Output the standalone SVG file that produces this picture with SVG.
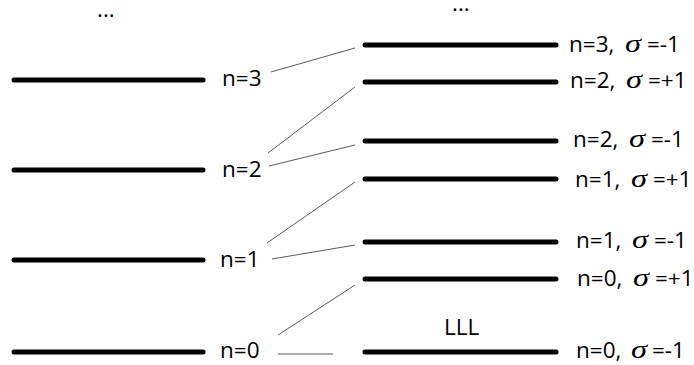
<svg xmlns="http://www.w3.org/2000/svg" width="694" height="365" viewBox="0 0 694 365">
  <style>
    .lvl { stroke: #000; stroke-width: 5; stroke-linecap: round; fill: none; }
    .link { stroke: #5a5a5a; stroke-width: 1; fill: none; }
    .lbl { font-family: "Open Sans", "Liberation Sans", sans-serif; font-size: 22.5px; fill: #000; }
    .sig { font-family: "Liberation Serif", "DejaVu Serif", serif; font-style: italic; font-size: 26px; fill: #000; }
  </style>
  <rect width="694" height="365" fill="#fff"/>

  <!-- continuation marks -->
  <text class="lbl" x="97" y="17">...</text>
  <text class="lbl" x="452" y="11">...</text>

  <!-- Landau levels without spin splitting -->
  <g id="n3"><line class="lvl" x1="14" y1="80" x2="203" y2="80"/><text class="lbl" x="222" y="86">n=3</text></g>
  <g id="n2"><line class="lvl" x1="14" y1="170" x2="203" y2="170"/><text class="lbl" x="222" y="177">n=2</text></g>
  <g id="n1"><line class="lvl" x1="14" y1="260" x2="203" y2="260"/><text class="lbl" x="220" y="267">n=1</text></g>
  <g id="n0"><line class="lvl" x1="14" y1="352" x2="203" y2="352"/><text class="lbl" x="220" y="358">n=0</text></g>

  <!-- spin-split levels: "n=k," then a slightly widened italic sigma, then the spin value -->
  <g id="n3m"><line class="lvl" x1="365" y1="45" x2="556" y2="45"/>
    <text class="lbl" x="569" y="52">n=3,</text>
    <text class="sig" transform="translate(625,52) scale(1.25,1)">σ</text>
    <text class="lbl" x="647" y="52">=-1</text></g>
  <g id="n2p"><line class="lvl" x1="365" y1="82" x2="556" y2="82"/>
    <text class="lbl" x="570" y="88">n=2,</text>
    <text class="sig" transform="translate(626,88) scale(1.25,1)">σ</text>
    <text class="lbl" x="648" y="88">=+1</text></g>
  <g id="n2m"><line class="lvl" x1="365" y1="141" x2="556" y2="141"/>
    <text class="lbl" x="573" y="147">n=2,</text>
    <text class="sig" transform="translate(629,147) scale(1.25,1)">σ</text>
    <text class="lbl" x="651" y="147">=-1</text></g>
  <g id="n1p"><line class="lvl" x1="365" y1="179" x2="556" y2="179"/>
    <text class="lbl" x="575" y="187">n=1,</text>
    <text class="sig" transform="translate(631,187) scale(1.25,1)">σ</text>
    <text class="lbl" x="653" y="187">=+1</text></g>
  <g id="n1m"><line class="lvl" x1="365" y1="242" x2="556" y2="242"/>
    <text class="lbl" x="576" y="248">n=1,</text>
    <text class="sig" transform="translate(632,248) scale(1.25,1)">σ</text>
    <text class="lbl" x="654" y="248">=-1</text></g>
  <g id="n0p"><line class="lvl" x1="365" y1="279" x2="556" y2="279"/>
    <text class="lbl" x="577" y="286">n=0,</text>
    <text class="sig" transform="translate(633,286) scale(1.25,1)">σ</text>
    <text class="lbl" x="655" y="286">=+1</text></g>
  <g id="n0m"><line class="lvl" x1="365" y1="352" x2="556" y2="352"/>
    <text class="lbl" x="576" y="358">n=0,</text>
    <text class="sig" transform="translate(631,358) scale(1.25,1)">σ</text>
    <text class="lbl" x="652" y="358">=-1</text></g>
  <g id="lll"><text class="lbl" x="444" y="335">LLL</text></g>

  <!-- connectors -->
  <g id="connectors">
    <line class="link" x1="271" y1="72" x2="355" y2="48"/>
    <line class="link" x1="268" y1="153" x2="355" y2="87"/>
    <line class="link" x1="269" y1="166" x2="355" y2="145"/>
    <line class="link" x1="267" y1="243" x2="355" y2="182"/>
    <line class="link" x1="272" y1="259" x2="355" y2="245"/>
    <line class="link" x1="278" y1="335" x2="355" y2="285"/>
    <line class="link" x1="278" y1="354" x2="333" y2="354"/>
  </g>
</svg>
